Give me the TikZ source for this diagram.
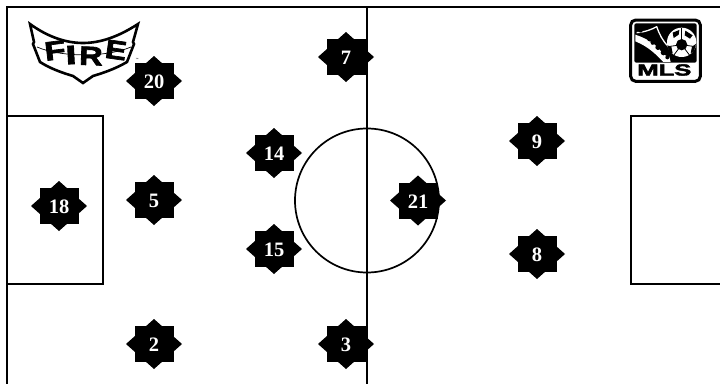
\documentclass[tikz,border=0pt]{standalone}
\usepackage{graphicx}
\usepackage{fontspec}
\setmainfont{Liberation Serif}
\newfontfamily\logofont{Liberation Sans}
\newfontfamily\logoheavy[FakeBold=2.5]{Liberation Sans Bold}
\tikzset{
  fieldline/.style={line width=2.3pt,line cap=rect},
  player/.style={shape=rectangle,inner sep=0pt,text=white,font=\fontsize{20.5}{20.5}\selectfont\bfseries},
  fireletter/.style={inner sep=0pt,font=\logoheavy\fontsize{26.5}{26.5}\selectfont},
  studs/.style={fill=black,draw=none},
}
\newcommand{\player}[4]{%
  \fill (#2-19.5,#3-18) rectangle (#2+19.5,#3+18);
  \fill (#2-28,#3) -- (#2,#3-25) -- (#2+28,#3) -- (#2,#3+25) -- cycle;
  \node[player] (#1) at (#2,#3+1) {#4};
}
\begin{document}
\begin{tikzpicture}[x=1pt,y=-1pt]
\useasboundingbox (0,0) rectangle (720,383);
\draw[fieldline] (7,383) -- (7,7) -- (720,7);
\draw[fieldline] (367,7) -- (367,383);
\draw[line width=1.7pt] (367,200.5) circle (72);
\draw[fieldline] (7,116) -- (103,116) -- (103,284) -- (7,284);
\draw[fieldline] (720,116) -- (631,116) -- (631,284) -- (720,284);
% FIRE logo
\draw[line width=2.6pt,line join=miter,fill=white]
  (30,24) .. controls (48,37) and (66,43) .. (83,43)
  .. controls (100,43) and (118,37) .. (138,24)
  -- (133,42) -- (134,44) -- (127,62)
  .. controls (115,69) and (103,73) .. (93,76)
  -- (83,83) -- (73,76)
  .. controls (63,73) and (51,69) .. (40,62)
  -- (33,44) -- (34,42) -- cycle;
\node[fireletter,rotate=7] (fireF) at (55,50.5) {\scalebox{1.3}[1]{F}};
\node[fireletter,rotate=3] (fireI) at (71,55) {\scalebox{1.5}[1]{I}};
\node[fireletter,rotate=-2] (fireR) at (91,56) {\scalebox{1.22}[1]{R}};
\node[fireletter,rotate=-8] (fireE) at (116,50) {\scalebox{1.2}[1]{E}};
\draw[line width=.7pt] (37,47) .. controls (60,57) and (105,58) .. (131,47);
\node[inner sep=0pt,font=\logofont\fontsize{3}{3}\selectfont] (firetm) at (137,59) {™};
% MLS logo
\begin{scope}[shift={(622,12)},x=.3333pt,y=-.3333pt]
  \draw[line width=3pt,rounded corners=5pt,fill=white] (26,24) rectangle (235,208);
  \fill[rounded corners=2pt] (37,34) rectangle (224,152);
  % boot
  \draw[white,line width=1.3pt,line join=round] (44,62) .. controls (70,60) and (90,52) .. (104,44) .. controls (112,66) and (122,88) .. (140,104);
  \fill[white] (40,68) .. controls (70,78) and (95,92) .. (112,112)
     .. controls (122,126) and (132,134) .. (142,134) -- (146,150) -- (124,150)
     .. controls (105,130) and (80,104) .. (40,88) -- cycle;
  \foreach \zx/\zy in {56,82, 74,92, 92,106, 108,122, 124,136}
    \fill[studs] (\zx,\zy) circle (2pt);
  % ball
  \fill[white] (179,91) circle (44);
  \fill (179,98) circle (17);
  \draw[line width=.8pt] (179,98) -- (179,48);
  \draw[line width=.8pt] (179,98) -- (138,104);
  \draw[line width=.8pt] (179,98) -- (220,104);
  \draw[line width=.8pt] (179,98) -- (155,130);
  \draw[line width=.8pt] (179,98) -- (203,130);
  \fill (152,62) -- (172,54) -- (170,68) -- (155,78) -- cycle;
  \fill (190,56) -- (212,70) -- (204,80) -- (188,70) -- cycle;
  \fill (136,100) -- (148,104) -- (152,124) -- (142,122) -- cycle;
  \fill (222,96) -- (210,104) -- (206,124) -- (216,118) -- cycle;
  \node[inner sep=0pt,font=\logoheavy\fontsize{16}{16}\selectfont] (mlstext) at (127,174) {\scalebox{1.6}[1]{MLS}};
\end{scope}
\player{p7}{346}{57}{7}
\player{p20}{154}{81}{20}
\player{p14}{274}{153}{14}
\player{p5}{154}{200}{5}
\player{p18}{59}{206}{18}
\player{p15}{274}{249}{15}
\player{p21}{418}{200.5}{21}
\player{p9}{537}{141}{9}
\player{p8}{537}{254}{8}
\player{p2}{154}{344}{2}
\player{p3}{346}{344}{3}
\end{tikzpicture}
\end{document}
